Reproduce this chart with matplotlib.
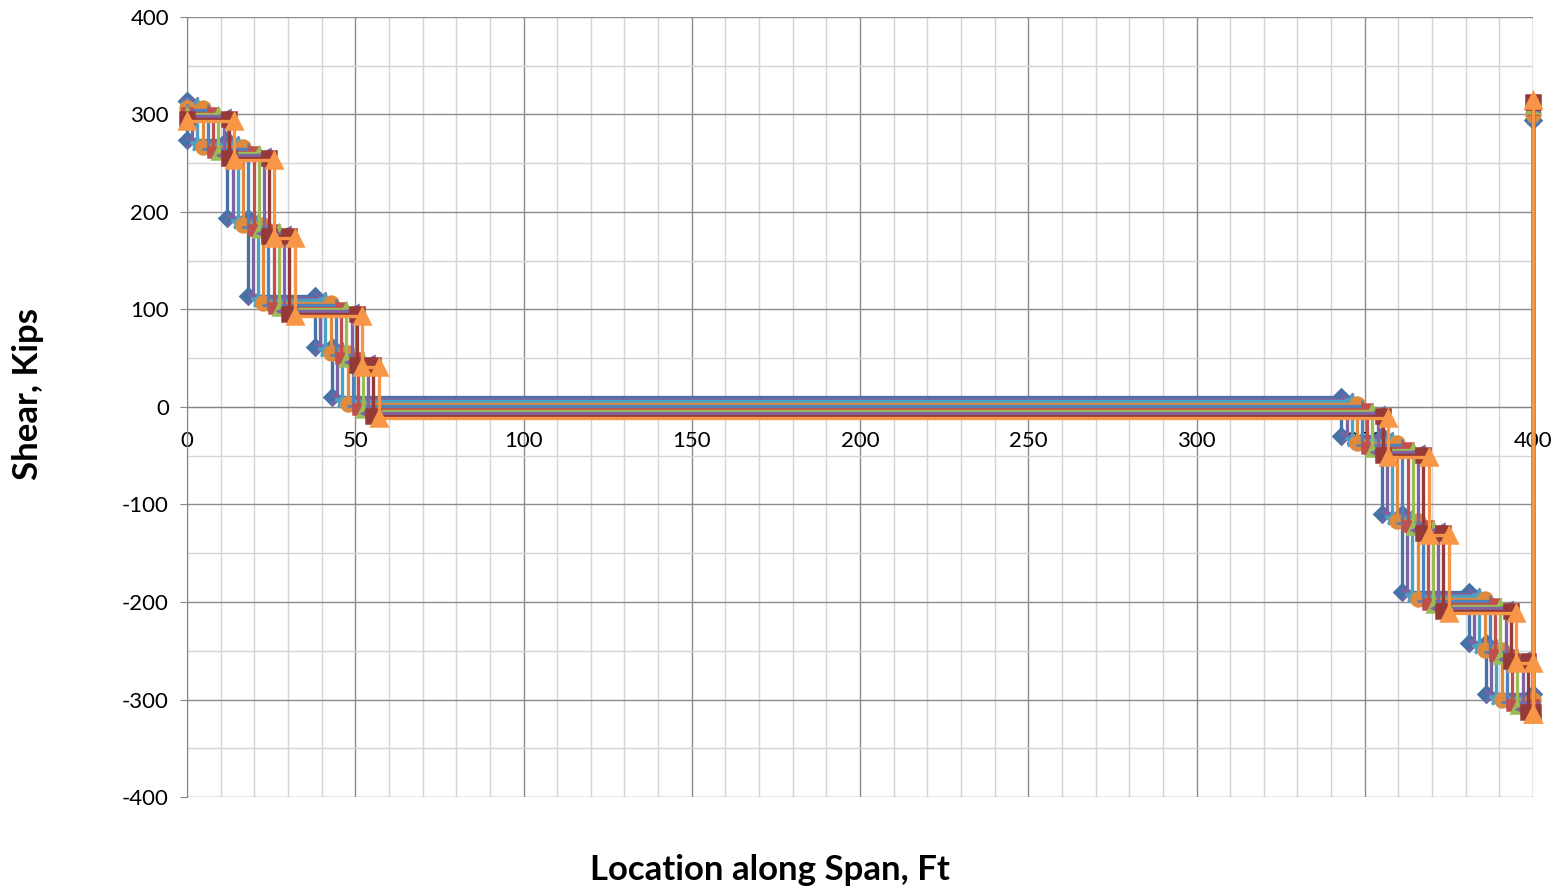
import matplotlib
matplotlib.use('Agg')
import matplotlib.pyplot as plt
from matplotlib.ticker import MultipleLocator

# location where each axle sits (ft), one row per load position
axle_x = [
    [0.0, 12.0, 18.0, 38.0, 43.0, 343.0, 355.0, 361.0, 381.0, 386.0],
    [1.6, 13.6, 19.6, 39.6, 44.6, 344.6, 356.6, 362.6, 382.6, 387.6],
    [3.1, 15.1, 21.1, 41.1, 46.1, 346.1, 358.1, 364.1, 384.1, 389.1],
    [4.7, 16.7, 22.7, 42.7, 47.7, 347.7, 359.7, 365.7, 385.7, 390.7],
    [6.2, 18.2, 24.2, 44.2, 49.2, 349.2, 361.2, 367.2, 387.2, 392.2],
    [7.8, 19.8, 25.8, 45.8, 50.8, 350.8, 362.8, 368.8, 388.8, 393.8],
    [9.3, 21.3, 27.3, 47.3, 52.3, 352.3, 364.3, 370.3, 390.3, 395.3],
    [10.9, 22.9, 28.9, 48.9, 53.9, 353.9, 365.9, 371.9, 391.9, 396.9],
    [12.4, 24.4, 30.4, 50.4, 55.4, 355.4, 367.4, 373.4, 393.4, 398.4],
    [14.0, 26.0, 32.0, 52.0, 57.0, 357.0, 369.0, 375.0, 395.0, 400.0],
]

# shear level (kips) between supports / axles, left to right
shear = [
    [314, 274, 194, 114, 62, 10, -30, -110, -190, -242, -294],
    [312, 272, 192, 112, 60, 8, -32, -112, -192, -244, -296],
    [310, 270, 190, 110, 58, 6, -34, -114, -194, -246, -298],
    [307, 267, 187, 107, 55, 3, -37, -117, -197, -249, -301],
    [305, 265, 185, 105, 53, 1, -39, -119, -199, -251, -303],
    [302, 262, 182, 102, 50, -2, -42, -122, -202, -254, -306],
    [300, 260, 180, 100, 48, -4, -44, -124, -204, -256, -308],
    [298, 258, 178, 98, 46, -6, -46, -126, -206, -258, -310],
    [295, 255, 175, 95, 43, -9, -49, -129, -209, -261, -313],
    [293, 253, 173, 93, 41, -11, -51, -131, -211, -263, -315],
]

# value plotted at the right support
end_shear = [294, 296, 298, 301, 303, 306, 308, 310, 313, 315]

span = 400

colors = ['#4672A8', '#7F63A1', '#4AA3C2', '#DE8A3F', '#4F81BD',
          '#C0504D', '#9BBB59', '#8064A2', '#963A38', '#F79646']
markers = ['D', 'x', '*', 'o', '+', 's', '^', '<', 's', '^']
msizes = [8, 8, 10, 10, 9, 7, 8, 9, 10, 11]

plt.rcParams['font.family'] = ['Lato', 'DejaVu Sans']
plt.rcParams['axes.unicode_minus'] = False

fig = plt.figure(figsize=(15.62, 8.90), dpi=100)
ax = fig.add_axes([187 / 1562, 1 - 797 / 890, (1533 - 187) / 1562, (797 - 17) / 890])

for k in range(len(shear)):
    xs = [0]
    ys = [shear[k][0]]
    for i, xa in enumerate(axle_x[k]):
        xs += [xa, xa]
        ys += [shear[k][i], shear[k][i + 1]]
    xs += [span, span]
    ys += [shear[k][-1], end_shear[k]]
    ax.plot(xs, ys, color=colors[k], lw=2.4, marker=markers[k],
            ms=msizes[k], mew=1.8, solid_joinstyle='miter', zorder=3 + k,
            clip_on=False)

ax.set_xlim(0, 400)
ax.set_ylim(-400, 400)
ax.xaxis.set_major_locator(MultipleLocator(50))
ax.xaxis.set_minor_locator(MultipleLocator(10))
ax.yaxis.set_major_locator(MultipleLocator(100))
ax.yaxis.set_minor_locator(MultipleLocator(50))
ax.grid(which='major', color='#8C8C8C', lw=1.0, zorder=0)
ax.grid(which='minor', color='#D4D4D4', lw=1.0, zorder=0)
ax.set_axisbelow(True)

for side in ['top', 'right']:
    ax.spines[side].set_visible(False)
ax.spines['bottom'].set_position(('data', 0))
ax.spines['bottom'].set_color('#868686')
ax.spines['left'].set_color('#868686')
ax.spines['bottom'].set_zorder(2)

ax.tick_params(axis='x', which='both', length=0, pad=17, labelsize=16)
ax.tick_params(axis='y', which='major', length=5, color='#868686', pad=8, labelsize=16)
ax.tick_params(axis='y', which='minor', length=0)

fig.text(0.493, 1 - 870 / 890, 'Location along Span, Ft', ha='center', va='center',
         fontsize=25, fontweight='bold')
fig.text(0.018, 1 - 394 / 890, 'Shear, Kips', ha='center', va='center', rotation=90,
         fontsize=25, fontweight='bold')

fig.savefig('out.png', dpi=100)
